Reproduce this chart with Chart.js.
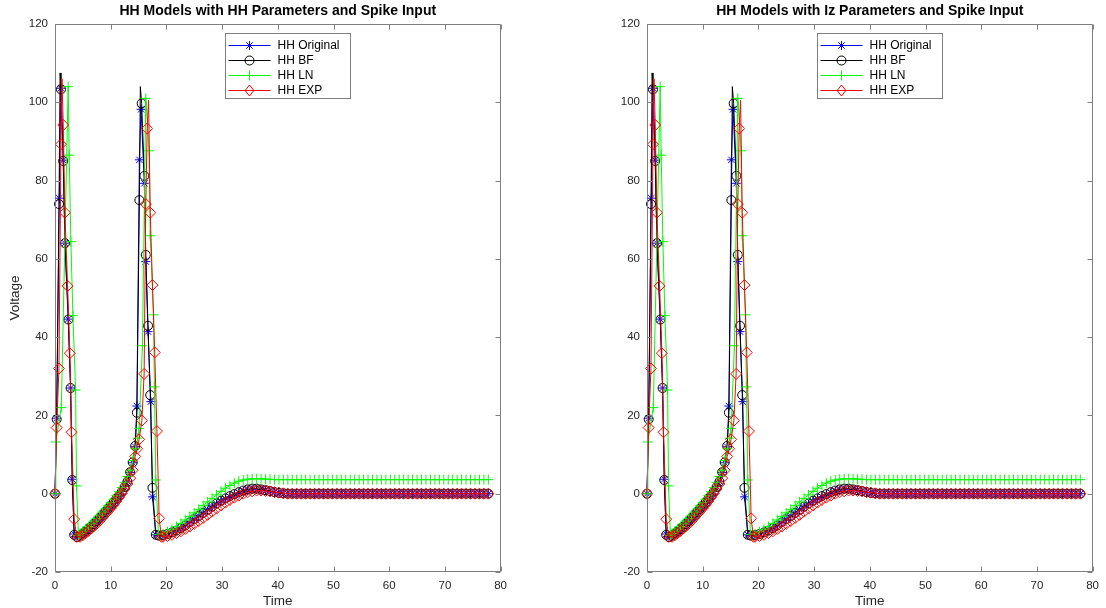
<!DOCTYPE html>
<html><head><meta charset="utf-8">
<script src="https://cdn.jsdelivr.net/npm/chart.js@4/dist/chart.umd.min.js"></script>
<style>
html,body{margin:0;padding:0;background:#fff;width:1106px;height:608px;overflow:hidden}
.c{position:absolute;top:0;width:514px;height:608px}
</style></head><body>
<div class="c" style="left:0"><canvas id="c1" width="514" height="608"></canvas></div>
<div class="c" style="left:592px"><canvas id="c2" width="514" height="608"></canvas></div>
<script>
const chartTitles = ['HH Models with HH Parameters and Spike Input', 'HH Models with Iz Parameters and Spike Input'];
const seriesNames = ['HH Original', 'HH BF', 'HH LN', 'HH EXP'];
const xLabel = 'Time';
const yLabel = 'Voltage';
const xTickVals = [0, 10, 20, 30, 40, 50, 60, 70, 80];
const yTickVals = [-20, 0, 20, 40, 60, 80, 100, 120];

// shared time samples (recovery between spikes, and late tail)
const tRec = [4.5, 5, 5.5, 6, 6.5, 7, 7.5, 8, 8.5, 9, 9.5, 10, 10.5, 11, 11.5, 12, 12.5, 13];
const tTail = [19.4, 20.2, 21.0, 21.8, 22.6, 23.4, 24.2, 25.0, 25.8, 26.6, 27.4, 28.2, 29.0, 29.8, 30.6, 31.4, 32.2, 33.0, 33.8, 34.6, 35.4, 36.2, 37.0, 37.8, 38.6, 39.4, 40.2, 41.0, 41.8, 42.6, 43.4, 44.2, 45.0, 45.8, 46.6, 47.4, 48.2, 49.0, 49.8, 50.6, 51.4, 52.2, 53.0, 53.8, 54.6, 55.4, 56.2, 57.0, 57.8, 58.6, 59.4, 60.2, 61.0, 61.8, 62.6, 63.4, 64.2, 65.0, 65.8, 66.6, 67.4, 68.2, 69.0, 69.8, 70.6, 71.4, 72.2, 73.0, 73.8, 74.6, 75.4, 76.2, 77.0, 77.8];

// HH Original
const origT1 = [0, 0.3, 0.77, 1.07, 1.48, 1.78, 2.37, 2.8, 3.1, 3.45, 3.95];
const origV1 = [0, 19.3, 75.5, 103.6, 85.2, 64, 44.6, 27, 3.7, -10.3, -11];
const origRec = [-10.6, -10.1, -9.5, -8.9, -8.3, -7.6, -6.9, -6.1, -5.4, -4.6, -3.8, -3.0, -2.2, -1.3, -0.4, 0.6, 1.8, 3.2];
const origT2 = [13.5, 13.95, 14.4, 14.7, 15.15, 15.45, 16.04, 16.3, 16.7, 17.2, 17.5, 18.1, 18.6];
const origV2 = [5.4, 7.9, 12, 22.4, 85.3, 98.2, 79.3, 59.3, 41.4, 23.5, -0.8, -10.5, -10.6];
const origTail = [-10.5, -10.2, -9.8, -9.3, -8.7, -8.0, -7.3, -6.5, -5.7, -4.9, -4.1, -3.3, -2.6, -1.9, -1.3, -0.8, -0.3, 0.2, 0.6, 0.9, 1.1, 1.1, 1.0, 0.8, 0.6, 0.4, 0.2, 0.1, 0, 0, 0, 0, 0, 0, 0, 0, 0, 0, 0, 0, 0, 0, 0, 0, 0, 0, 0, 0, 0, 0, 0, 0, 0, 0, 0, 0, 0, 0, 0, 0, 0, 0, 0, 0, 0, 0, 0, 0, 0, 0, 0, 0, 0, 0];

// HH BF
const bfT1 = [0, 0.3, 0.72, 0.92, 1.07, 1.48, 1.8, 2.4, 2.8, 3.1, 3.45, 3.95];
const bfV1 = [0, 19, 74, 107.5, 103.3, 85, 64, 44.5, 27, 3.5, -10.5, -11.1];
const bfRec = [-10.7, -10.2, -9.6, -9.0, -8.4, -7.7, -7.0, -6.2, -5.5, -4.7, -3.9, -3.1, -2.3, -1.4, -0.5, 0.5, 1.7, 3.1];
const bfT2 = [13.5, 13.95, 14.4, 14.7, 15.15, 15.32, 15.56, 16.04, 16.3, 16.7, 17.1, 17.5, 18.1, 18.6];
const bfV2 = [5.5, 8, 12.2, 20.7, 75, 104, 99.7, 81.2, 61, 42.9, 25.2, 1.5, -10.5, -10.7];
const bfTail = [-10.6, -10.3, -9.9, -9.4, -8.8, -8.1, -7.3, -6.5, -5.7, -4.9, -4.1, -3.3, -2.5, -1.8, -1.2, -0.6, -0.1, 0.4, 0.8, 1.1, 1.3, 1.3, 1.1, 0.9, 0.7, 0.4, 0.2, 0.1, 0, 0, 0, 0, 0, 0, 0, 0, 0, 0, 0, 0, 0, 0, 0, 0, 0, 0, 0, 0, 0, 0, 0, 0, 0, 0, 0, 0, 0, 0, 0, 0, 0, 0, 0, 0, 0, 0, 0, 0, 0, 0, 0, 0, 0, 0];
const bfLineOnlyT = [0.92, 15.32];

// HH LN
const lnT1 = [0, 0.15, 1.13, 2.37, 2.55, 2.85, 3.22, 3.7, 3.87, 4.2];
const lnV1 = [0, 13.2, 22, 104, 86.5, 64.4, 45.5, 26.5, 2, -10.6];
const lnRec = [-10.2, -9.6, -9.0, -8.4, -7.7, -7.0, -6.3, -5.5, -4.7, -3.9, -3.1, -2.3, -1.4, -0.5, 0.5, 1.6, 2.9, 4.4];
const lnT2 = [13.5, 13.95, 14.4, 14.85, 15.1, 15.7, 16.3, 16.9, 17.1, 17.7, 17.85, 18.1, 18.6];
const lnV2 = [6, 8.5, 11.5, 14.2, 16.7, 37.8, 101, 87.6, 65.9, 45.7, 27.3, 3.5, -10.4];
const lnTail = [-10.2, -9.7, -9.1, -8.4, -7.6, -6.7, -5.8, -4.9, -4.0, -3.0, -2.1, -1.2, -0.3, 0.6, 1.4, 2.1, 2.7, 3.2, 3.5, 3.7, 3.8, 3.8, 3.8, 3.7, 3.7, 3.6, 3.6, 3.6, 3.6, 3.6, 3.6, 3.6, 3.6, 3.6, 3.6, 3.6, 3.6, 3.6, 3.6, 3.6, 3.6, 3.6, 3.6, 3.6, 3.6, 3.6, 3.6, 3.6, 3.6, 3.6, 3.6, 3.6, 3.6, 3.6, 3.6, 3.6, 3.6, 3.6, 3.6, 3.6, 3.6, 3.6, 3.6, 3.6, 3.6, 3.6, 3.6, 3.6, 3.6, 3.6, 3.6, 3.6, 3.6, 3.6];

// HH EXP
const expT1 = [0, 0.3, 0.71, 1.07, 1.25, 1.48, 1.78, 2.26, 2.67, 2.97, 3.45, 3.9];
const expV1 = [0, 16.9, 32, 89.3, 106, 94.2, 71.8, 53.1, 35.9, 15.7, -6.5, -11];
const expRec = [-11.0, -10.6, -10.1, -9.5, -8.9, -8.3, -7.6, -6.9, -6.1, -5.3, -4.5, -3.7, -2.8, -1.9, -0.9, 0.1, 1.2, 2.5];
const expT2 = [13.5, 13.95, 14.4, 14.75, 15.1, 15.6, 16.0, 16.3, 16.55, 16.8, 17.1, 17.5, 17.9, 18.3, 18.7, 19.1];
const expV2 = [4, 6, 9.5, 11.5, 13.9, 18.7, 30.6, 74, 93.3, 100.5, 71.8, 53.3, 36.1, 16, -6.3, -11];
const expTail = [-11, -10.8, -10.5, -10.1, -9.6, -9.0, -8.4, -7.7, -7.0, -6.2, -5.4, -4.6, -3.8, -3.0, -2.3, -1.6, -1.0, -0.5, 0, 0.4, 0.6, 0.8, 0.8, 0.7, 0.6, 0.4, 0.3, 0.1, 0, 0, 0, 0, 0, 0, 0, 0, 0, 0, 0, 0, 0, 0, 0, 0, 0, 0, 0, 0, 0, 0, 0, 0, 0, 0, 0, 0, 0, 0, 0, 0, 0, 0, 0, 0, 0, 0, 0, 0, 0, 0, 0, 0, 0, 0];
const expLineOnlyT = [1.25, 16.8];

const FONT = '"Liberation Sans", Arial, Helvetica, sans-serif';
const AXIS_COLOR = '#808080';
const TEXT_COLOR = '#262626';

function build(t1, v1, rec, t2, v2, tail) {
  const pts = [];
  t1.forEach((t, i) => pts.push({x: t, y: v1[i]}));
  tRec.forEach((t, i) => pts.push({x: t, y: rec[i]}));
  t2.forEach((t, i) => pts.push({x: t, y: v2[i]}));
  tTail.forEach((t, i) => pts.push({x: t, y: tail[i]}));
  return pts;
}

const styles = [
  {color: '#0000ff', style: 'star', r: 4.5, hidden: []},
  {color: '#000000', style: 'circle', r: 4.5, hidden: bfLineOnlyT},
  {color: '#00ff00', style: 'cross', r: 5, hidden: []},
  {color: '#ff0000', style: 'rectRot', r: 5.5, hidden: expLineOnlyT}
];
const seriesData = [
  build(origT1, origV1, origRec, origT2, origV2, origTail),
  build(bfT1, bfV1, bfRec, bfT2, bfV2, bfTail),
  build(lnT1, lnV1, lnRec, lnT2, lnV2, lnTail),
  build(expT1, expV1, expRec, expT2, expV2, expTail)
];

function drawMarker(ctx, style, x, y, r, color) {
  ctx.save();
  ctx.strokeStyle = color; ctx.lineWidth = 1;
  ctx.beginPath();
  if (style === 'circle') { ctx.arc(x, y, r, 0, Math.PI * 2); }
  else if (style === 'cross') { ctx.moveTo(x - r, y); ctx.lineTo(x + r, y); ctx.moveTo(x, y - r); ctx.lineTo(x, y + r); }
  else if (style === 'rectRot') { ctx.moveTo(x, y - r); ctx.lineTo(x + r * 0.8, y); ctx.lineTo(x, y + r); ctx.lineTo(x - r * 0.8, y); ctx.closePath(); }
  else if (style === 'star') {
    for (let k = 0; k < 4; k++) { const a = k * Math.PI / 4; ctx.moveTo(x - r * Math.cos(a), y - r * Math.sin(a)); ctx.lineTo(x + r * Math.cos(a), y + r * Math.sin(a)); }
  }
  ctx.stroke();
  ctx.restore();
}

const matlabAxes = {
  id: 'matlabAxes',
  afterDatasetsDraw(chart, args, opts) {
    const {ctx, chartArea: a, scales: {x, y}} = chart;
    ctx.save();
    ctx.strokeStyle = AXIS_COLOR; ctx.lineWidth = 1;
    const L = Math.round(a.left) + 0.5, R = Math.round(a.right) - 0.5;
    const T = Math.round(a.top) + 0.5, B = Math.round(a.bottom) - 0.5;
    ctx.beginPath();
    ctx.rect(L, T, R - L, B - T);
    xTickVals.forEach(v => {
      const px = Math.round(x.getPixelForValue(v)) + 0.5;
      ctx.moveTo(px, B); ctx.lineTo(px, B - 5);
      ctx.moveTo(px, T); ctx.lineTo(px, T + 5);
    });
    yTickVals.forEach(v => {
      const py = Math.round(y.getPixelForValue(v)) + 0.5;
      ctx.moveTo(L, py); ctx.lineTo(L + 5, py);
      ctx.moveTo(R, py); ctx.lineTo(R - 5, py);
    });
    ctx.stroke();
    ctx.restore();
  },
  afterDraw(chart, args, opts) {
    const {ctx, chartArea: a} = chart;
    ctx.save();
    // title
    ctx.fillStyle = '#000';
    ctx.font = 'bold 14px ' + FONT;
    ctx.textAlign = 'center'; ctx.textBaseline = 'middle';
    ctx.fillText(opts.title, (a.left + a.right) / 2, 11);
    // legend
    const lx = Math.round(a.left + 170) + 0.5, ly = Math.round(a.top + 9) + 0.5, lw = 125, lh = 65;
    ctx.fillStyle = '#fff';
    ctx.fillRect(lx, ly, lw, lh);
    ctx.strokeStyle = AXIS_COLOR; ctx.lineWidth = 1;
    ctx.strokeRect(lx, ly, lw, lh);
    ctx.font = '12px ' + FONT;
    ctx.textAlign = 'left'; ctx.textBaseline = 'middle';
    seriesNames.forEach((name, i) => {
      const yy = Math.round(ly + 11 + i * 15) + 0.5;
      const s = styles[i];
      ctx.strokeStyle = s.color; ctx.lineWidth = 1;
      ctx.beginPath(); ctx.moveTo(lx + 3, yy); ctx.lineTo(lx + 45, yy); ctx.stroke();
      drawMarker(ctx, s.style, lx + 24, yy, s.r, s.color);
      ctx.fillStyle = '#000';
      ctx.fillText(name, lx + 52, yy);
    });
    ctx.restore();
  }
};

function makeChart(id, title, showYTitle) {
  const datasets = seriesNames.map((name, i) => {
    const s = styles[i];
    return {
      label: name,
      data: seriesData[i],
      showLine: true,
      borderColor: s.color,
      borderWidth: 1,
      backgroundColor: 'rgba(0,0,0,0)',
      pointBackgroundColor: 'rgba(0,0,0,0)',
      pointBorderColor: s.color,
      pointBorderWidth: 1,
      pointStyle: s.style,
      pointRadius: ctx => (ctx.raw && s.hidden.includes(ctx.raw.x)) ? 0 : s.r,
      tension: 0,
      clip: false,
      order: 4 - i
    };
  });
  return new Chart(document.getElementById(id), {
    type: 'scatter',
    data: {datasets},
    options: {
      responsive: false,
      devicePixelRatio: 1,
      animation: false,
      events: [],
      layout: {padding: {left: 0, right: 10, top: 24, bottom: 0}},
      plugins: {legend: {display: false}, tooltip: {enabled: false}, title: {display: false}, matlabAxes: {title}},
      scales: {
        x: {
          type: 'linear', min: 0, max: 80,
          afterBuildTicks: s => { s.ticks = xTickVals.map(v => ({value: v})); },
          afterFit: s => { s.height = 36; },
          grid: {display: false, drawTicks: false},
          border: {display: false},
          ticks: {color: TEXT_COLOR, font: {family: FONT, size: 11.5}, padding: 7, maxRotation: 0},
          title: {display: true, text: xLabel, color: TEXT_COLOR, font: {family: FONT, size: 13.5, lineHeight: 1}, padding: {top: 0, bottom: 0}}
        },
        y: {
          type: 'linear', min: -20, max: 120,
          afterBuildTicks: s => { s.ticks = yTickVals.map(v => ({value: v})); },
          afterFit: s => { s.width = 55; },
          grid: {display: false, drawTicks: false},
          border: {display: false},
          ticks: {color: TEXT_COLOR, font: {family: FONT, size: 11.5}, padding: 7},
          title: {display: showYTitle, text: yLabel, color: TEXT_COLOR, font: {family: FONT, size: 13.5, lineHeight: 1.2}, padding: {top: 7, bottom: 0}}
        }
      }
    },
    plugins: [matlabAxes]
  });
}

makeChart('c1', chartTitles[0], true);
makeChart('c2', chartTitles[1], false);
</script>
</body></html>
